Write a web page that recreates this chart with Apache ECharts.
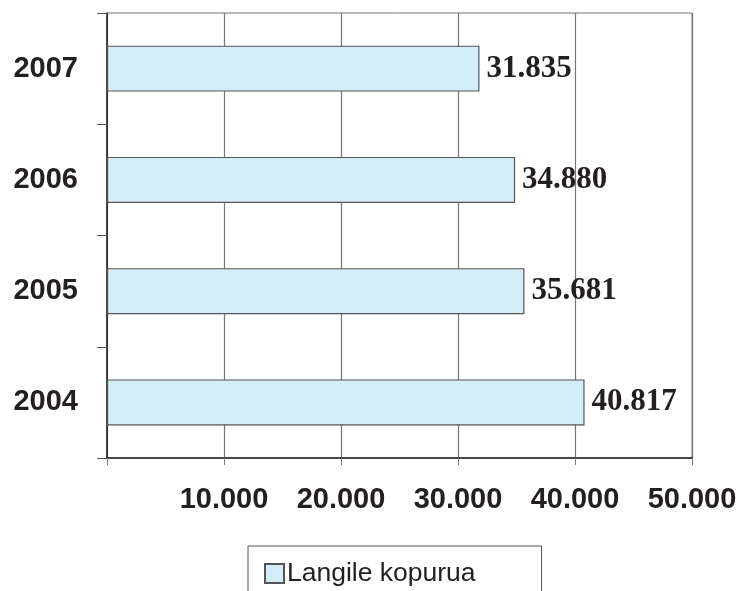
<!DOCTYPE html>
<html>
<head>
<meta charset="utf-8">
<script src="https://cdn.jsdelivr.net/npm/echarts@6/dist/echarts.min.js"></script>
<style>
html,body{margin:0;padding:0;background:#fff;}
#c{width:747px;height:591px;}
</style>
</head>
<body>
<div id="c"></div>
<script>
const categories = ['2004', '2005', '2006', '2007'];
const values = [40817, 35681, 34880, 31835];
const seriesName = 'Langile kopurua';
const xTicks = [0, 10000, 20000, 30000, 40000, 50000];

function fmt(v) {
  return String(v).replace(/\B(?=(\d{3})+(?!\d))/g, '.');
}

const chart = echarts.init(document.getElementById('c'), null, {renderer: 'canvas'});
chart.setOption({
  animation: false,
  backgroundColor: '#fff',
  grid: {
    left: 107, right: 55, top: 13, bottom: 133,
    show: true, borderColor: '#777', borderWidth: 1
  },
  xAxis: {
    type: 'value',
    min: xTicks[0], max: xTicks[xTicks.length - 1], interval: 10000,
    axisLine: {show: true, lineStyle: {color: '#222', width: 1.5}},
    axisTick: {show: true, length: 7, inside: false, lineStyle: {color: '#777'}},
    splitLine: {show: true, lineStyle: {color: '#777', width: 1.2}},
    axisLabel: {
      margin: 27,
      fontFamily: 'Liberation Sans, Arial, sans-serif',
      fontWeight: 'bold', fontSize: 29, color: '#231f20',
      formatter: v => v === 0 ? '' : fmt(v)
    }
  },
  yAxis: {
    type: 'category',
    data: categories,
    axisLine: {show: true, lineStyle: {color: '#222', width: 1.5}},
    axisTick: {show: true, length: 10, lineStyle: {color: '#555'}},
    splitLine: {show: false},
    axisLabel: {
      margin: 29,
      padding: [5, 0, 0, 0],
      fontFamily: 'Liberation Sans, Arial, sans-serif',
      fontWeight: 'bold', fontSize: 29, color: '#231f20'
    }
  },
  legend: {
    show: true,
    left: 248, top: 546,
    padding: [14, 66, 30, 16],
    borderColor: '#555', borderWidth: 1,
    itemWidth: 19, itemHeight: 19, itemGap: 4,
    icon: 'rect',
    textStyle: {fontFamily: 'Liberation Sans, Arial, sans-serif', fontSize: 26.5, color: '#231f20', padding: [0, 0, 0, -2]},
    data: [seriesName]
  },
  series: [{
    name: seriesName,
    type: 'bar',
    data: values,
    barWidth: 46,
    itemStyle: {color: '#d4eef9', borderColor: '#555', borderWidth: 1.2},
    label: {
      show: true, position: 'right', distance: 7,
      fontFamily: 'Liberation Serif, Times New Roman, serif',
      fontWeight: 'bold', fontSize: 31, color: '#231f20',
      formatter: p => fmt(p.value)
    }
  }]
});
</script>
</body>
</html>
